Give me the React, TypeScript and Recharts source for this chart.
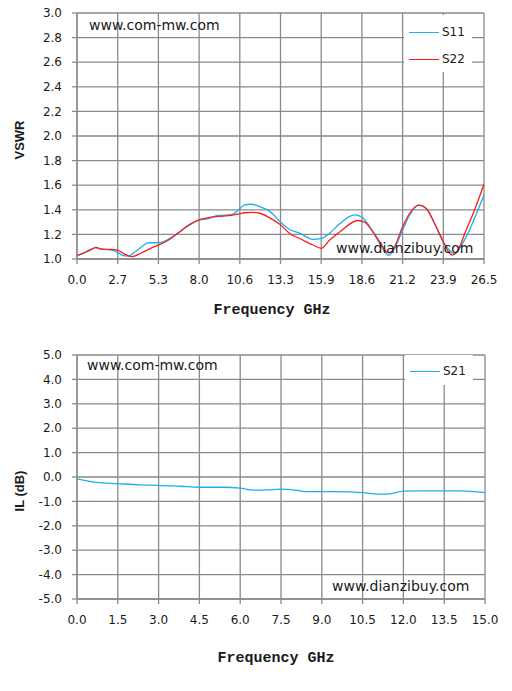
import { CartesianGrid, Line, LineChart, XAxis, YAxis } from "recharts";

// VSWR chart
const vswrXTicks = [0, 2.65, 5.3, 7.95, 10.6, 13.25, 15.9, 18.55, 21.2, 23.85, 26.5];
const vswrXLabels = ["0.0", "2.7", "5.3", "8.0", "10.6", "13.3", "15.9", "18.6", "21.2", "23.9", "26.5"];
const vswrYTicks = [1.0, 1.2, 1.4, 1.6, 1.8, 2.0, 2.2, 2.4, 2.6, 2.8, 3.0];

const s11Freq = [
  0, 0.54, 0.86, 1.23, 1.62, 2.27, 2.65, 3.02, 3.35, 3.78, 4.21, 4.64, 5.3, 5.72, 6.37, 7.24, 7.95,
  8.53, 9.18, 10.04, 10.6, 10.9, 11.36, 11.9, 12.55, 13.25, 13.85, 14.5, 15.37, 15.9, 16.45, 17.1,
  18.07, 18.55, 19.27, 19.7, 20.3, 20.68, 21.2, 21.65, 22.26, 22.74, 23.28, 23.85, 24.36, 24.58,
  24.9, 25.34, 25.88, 26.5,
];
const s11Vswr = [
  1.03, 1.054, 1.078, 1.091, 1.08, 1.072, 1.054, 1.027, 1.024, 1.059, 1.099, 1.132, 1.132, 1.145,
  1.193, 1.268, 1.319, 1.327, 1.354, 1.36, 1.408, 1.44, 1.445, 1.426, 1.387, 1.3, 1.24, 1.21, 1.16,
  1.167, 1.21, 1.286, 1.358, 1.34, 1.22, 1.127, 1.03, 1.086, 1.235, 1.357, 1.438, 1.411, 1.289,
  1.14, 1.059, 1.04, 1.086, 1.18, 1.33, 1.52,
];

const s22Freq = [
  0, 0.54, 0.86, 1.23, 1.62, 2.27, 2.65, 3.02, 3.56, 4.21, 4.86, 5.3, 5.94, 6.59, 7.24, 7.95, 8.53,
  9.18, 10.04, 10.6, 10.9, 11.36, 11.9, 12.55, 13.25, 13.85, 14.5, 15.37, 15.9, 16.45, 17.1, 18.29,
  18.73, 19.27, 19.7, 20.13, 20.35, 20.68, 21.2, 21.65, 22.26, 22.74, 23.28, 23.85, 24.14, 24.43,
  24.8, 25.34, 25.88, 26.5,
];
const s22Vswr = [
  1.027, 1.054, 1.072, 1.094, 1.08, 1.078, 1.072, 1.046, 1.019, 1.051, 1.091, 1.113, 1.153, 1.212,
  1.274, 1.319, 1.336, 1.346, 1.354, 1.368, 1.376, 1.379, 1.372, 1.334, 1.278, 1.207, 1.167, 1.114,
  1.087, 1.154, 1.22, 1.313, 1.3, 1.22, 1.14, 1.06, 1.05, 1.1, 1.262, 1.37, 1.438, 1.411, 1.289,
  1.14, 1.068, 1.032, 1.073, 1.235, 1.397, 1.608,
];

// insertion loss chart
const ilXTicks = [0, 1.5, 3, 4.5, 6, 7.5, 9, 10.5, 12, 13.5, 15];
const ilYTicks = [-5, -4, -3, -2, -1, 0, 1, 2, 3, 4, 5];

const s21Freq = [
  0, 0.71, 1.5, 2.3, 3.0, 3.8, 4.5, 5.4, 6.0, 6.5, 7.0, 7.5, 8.1, 8.4, 9.0, 10.0, 10.5, 11.1, 11.5,
  12.0, 12.6, 13.5, 14.1, 15,
];
const s21Loss = [
  -0.08, -0.22, -0.27, -0.32, -0.34, -0.38, -0.42, -0.42, -0.46, -0.54, -0.53, -0.5, -0.55, -0.6,
  -0.6, -0.61, -0.64, -0.7, -0.69, -0.58, -0.57, -0.57, -0.57, -0.64,
];

const BLUE = "#1ab0ec";
const RED = "#ff1a1a";
const GRID = "#8a8a8a";
const INK = "#1a1a1a";

const s11Data = s11Freq.map((f, i) => ({ f, v: s11Vswr[i] }));
const s22Data = s22Freq.map((f, i) => ({ f, v: s22Vswr[i] }));
const s21Data = s21Freq.map((f, i) => ({ f, v: s21Loss[i] }));

const tickFont = { fill: INK, fontSize: 12, fontFamily: "DejaVu Sans" };
const abs = (left: number, top: number): React.CSSProperties => ({ position: "absolute", left, top });

const watermark: React.CSSProperties = {
  position: "absolute",
  fontFamily: "DejaVu Sans",
  fontSize: 14,
  lineHeight: "16px",
  color: INK,
  whiteSpace: "nowrap",
};

const xTitle: React.CSSProperties = {
  position: "absolute",
  width: 200,
  textAlign: "center",
  fontFamily: "Liberation Mono",
  fontWeight: "bold",
  fontSize: 15,
  lineHeight: "16px",
  color: INK,
  whiteSpace: "pre",
};

const yTitle: React.CSSProperties = {
  position: "absolute",
  width: 80,
  textAlign: "center",
  fontFamily: "Liberation Sans",
  fontWeight: "bold",
  fontSize: 13,
  lineHeight: "16px",
  color: INK,
  transform: "rotate(-90deg)",
};

function LegendBox({
  left,
  top,
  width,
  height,
  items,
}: {
  left: number;
  top: number;
  width: number;
  height: number;
  items: { name: string; color: string; y: number }[];
}) {
  return (
    <div style={{ ...abs(left, top), width, height, background: "#fff" }}>
      {items.map((it) => (
        <div key={it.name}>
          <div style={{ ...abs(5, it.y), width: 30, height: 1.3, background: it.color }} />
          <div
            style={{
              ...abs(38, it.y - 8),
              fontFamily: "DejaVu Sans",
              fontSize: 12,
              lineHeight: "16px",
              color: INK,
            }}
          >
            {it.name}
          </div>
        </div>
      ))}
    </div>
  );
}

export default function App() {
  return (
    <div style={{ position: "absolute", left: 0, top: 0, width: 512, height: 691, background: "#fff" }}>
      <div style={{ ...abs(0, 0), width: 512, height: 340 }}>
        <LineChart width={512} height={340} margin={{ top: 13, right: 28, bottom: 51, left: 17 }}>
          <CartesianGrid stroke={GRID} strokeWidth={1.3} />
          <XAxis
            type="number"
            dataKey="f"
            domain={[0, 26.5]}
            ticks={vswrXTicks}
            interval={0}
            tickFormatter={(_v, i) => vswrXLabels[i]}
            tick={tickFont}
            tickSize={5}
            tickMargin={11}
            tickLine={{ stroke: GRID, strokeWidth: 1.3 }}
            axisLine={{ stroke: GRID, strokeWidth: 1.3 }}
          />
          <YAxis
            type="number"
            domain={[1, 3]}
            ticks={vswrYTicks}
            interval={0}
            width={60}
            tickFormatter={(v) => Number(v).toFixed(1)}
            tick={tickFont}
            tickSize={5}
            tickMargin={10}
            tickLine={{ stroke: GRID, strokeWidth: 1.3 }}
            axisLine={{ stroke: GRID, strokeWidth: 1.3 }}
          />
          <Line
            data={s11Data}
            dataKey="v"
            type="monotone"
            stroke={BLUE}
            strokeWidth={1.3}
            dot={false}
            isAnimationActive={false}
          />
          <Line
            data={s22Data}
            dataKey="v"
            type="monotone"
            stroke={RED}
            strokeWidth={1.3}
            dot={false}
            isAnimationActive={false}
          />
        </LineChart>
        <div style={{ ...watermark, left: 89, top: 17 }}>www.com-mw.com</div>
        <div style={{ ...watermark, left: 336, top: 240 }}>www.dianzibuy.com</div>
        <LegendBox
          left={404}
          top={15}
          width={68}
          height={57}
          items={[
            { name: "S11", color: BLUE, y: 17 },
            { name: "S22", color: RED, y: 44 },
          ]}
        />
        <div style={{ ...yTitle, left: -20, top: 132 }}>VSWR</div>
        <div style={{ ...xTitle, left: 172, top: 303 }}>Frequency GHz</div>
      </div>

      <div style={{ ...abs(0, 340), width: 512, height: 351 }}>
        <LineChart width={512} height={351} margin={{ top: 15, right: 27, bottom: 62, left: 17 }}>
          <CartesianGrid stroke={GRID} strokeWidth={1.3} />
          <XAxis
            type="number"
            dataKey="f"
            domain={[0, 15]}
            ticks={ilXTicks}
            interval={0}
            tickFormatter={(v) => Number(v).toFixed(1)}
            tick={tickFont}
            tickSize={5}
            tickMargin={11}
            tickLine={{ stroke: GRID, strokeWidth: 1.3 }}
            axisLine={{ stroke: GRID, strokeWidth: 1.3 }}
          />
          <YAxis
            type="number"
            domain={[-5, 5]}
            ticks={ilYTicks}
            interval={0}
            width={60}
            tickFormatter={(v) => Number(v).toFixed(1)}
            tick={tickFont}
            tickSize={5}
            tickMargin={10}
            tickLine={{ stroke: GRID, strokeWidth: 1.3 }}
            axisLine={{ stroke: GRID, strokeWidth: 1.3 }}
          />
          <Line
            data={s21Data}
            dataKey="v"
            type="monotone"
            stroke={BLUE}
            strokeWidth={1.3}
            dot={false}
            isAnimationActive={false}
          />
        </LineChart>
        <div style={{ ...watermark, left: 87, top: 17 }}>www.com-mw.com</div>
        <div style={{ ...watermark, left: 332, top: 238 }}>www.dianzibuy.com</div>
        <LegendBox
          left={405}
          top={15}
          width={68}
          height={30}
          items={[{ name: "S21", color: BLUE, y: 16 }]}
        />
        <div style={{ ...yTitle, left: -20, top: 143 }}>IL (dB)</div>
        <div style={{ ...xTitle, left: 176, top: 311 }}>Frequency GHz</div>
      </div>
    </div>
  );
}
